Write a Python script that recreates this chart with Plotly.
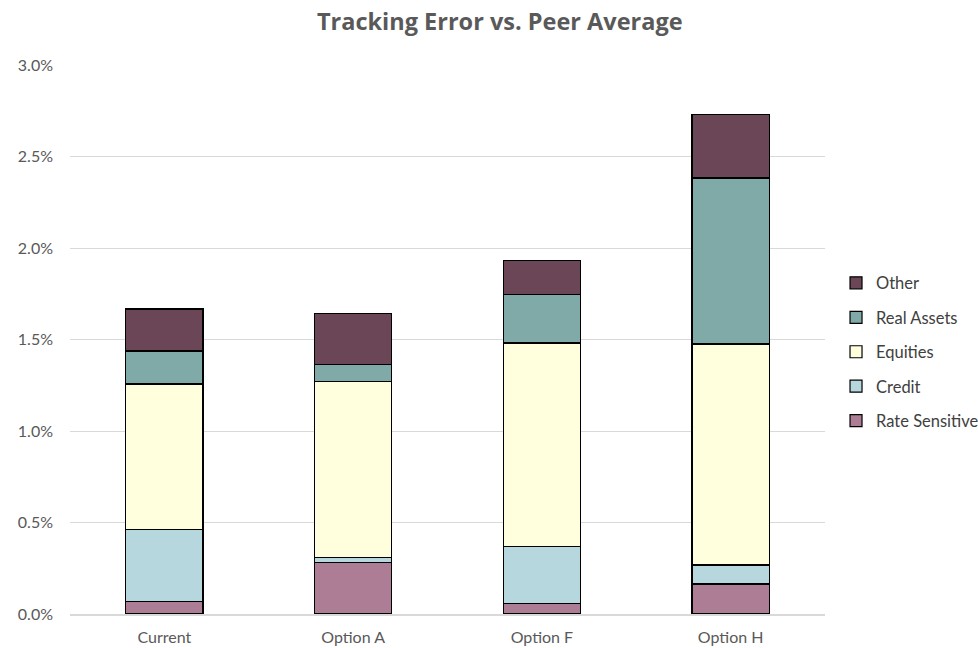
import plotly.graph_objects as go

categories = ["Current", "Option A", "Option F", "Option H"]
rate_sensitive = [0.067, 0.282, 0.058, 0.164]
credit = [0.393, 0.027, 0.310, 0.104]
equities = [0.797, 0.960, 1.113, 1.207]
real_assets = [0.180, 0.096, 0.264, 0.908]
other = [0.230, 0.275, 0.186, 0.347]

series = [
    ("Rate Sensitive", rate_sensitive, "#AD7D96"),
    ("Credit", credit, "#B5D7DD"),
    ("Equities", equities, "#FFFFDD"),
    ("Real Assets", real_assets, "#7FAAA8"),
    ("Other", other, "#6B4657"),
]

fig = go.Figure()
n = len(series)
for i, (name, vals, color) in enumerate(series):
    fig.add_trace(go.Bar(
        x=categories, y=vals, name=name, legendgroup=name, legendrank=n - i,
        marker=dict(color=color, line=dict(color="#000000", width=1.2)),
    ))

fig.update_layout(
    barmode="stack",
    bargap=0.59,
    width=978, height=648,
    margin=dict(l=70, r=153, t=65, b=34, autoexpand=False),
    paper_bgcolor="white", plot_bgcolor="white",
    font=dict(family="Lato, 'Open Sans', sans-serif", color="#595959", size=16),
    title=dict(text="<b>Tracking Error vs. Peer Average</b>", x=0.511, xref="container",
               xanchor="center", y=0.966, yref="container", yanchor="middle",
               font=dict(size=23.5, color="#595959", family="'Open Sans', Lato, sans-serif")),
    legend=dict(x=1.0146, xanchor="left", y=0.477, yanchor="middle",
                traceorder="grouped", tracegroupgap=10,
                font=dict(size=16.5, color="#404040"), itemwidth=30),
    showlegend=True,
)
fig.update_yaxes(range=[0, 3.0], dtick=0.5, tickformat=".1f", ticksuffix="%",
                 showgrid=True, gridcolor="#D9D9D9", gridwidth=1, zeroline=False,
                 showline=False, ticks="", ticklen=0, automargin=False,
                 ticklabelstandoff=16, tickfont=dict(size=16, color="#595959"))
fig.update_xaxes(showline=True, linecolor="#D9D9D9", linewidth=1.5, ticks="",
                 automargin=False, ticklabelstandoff=8,
                 tickfont=dict(size=16, color="#595959"))

fig.write_html("out.html", config={"displayModeBar": False},
               post_script="document.body.style.margin='0';document.body.style.overflow='hidden';")
